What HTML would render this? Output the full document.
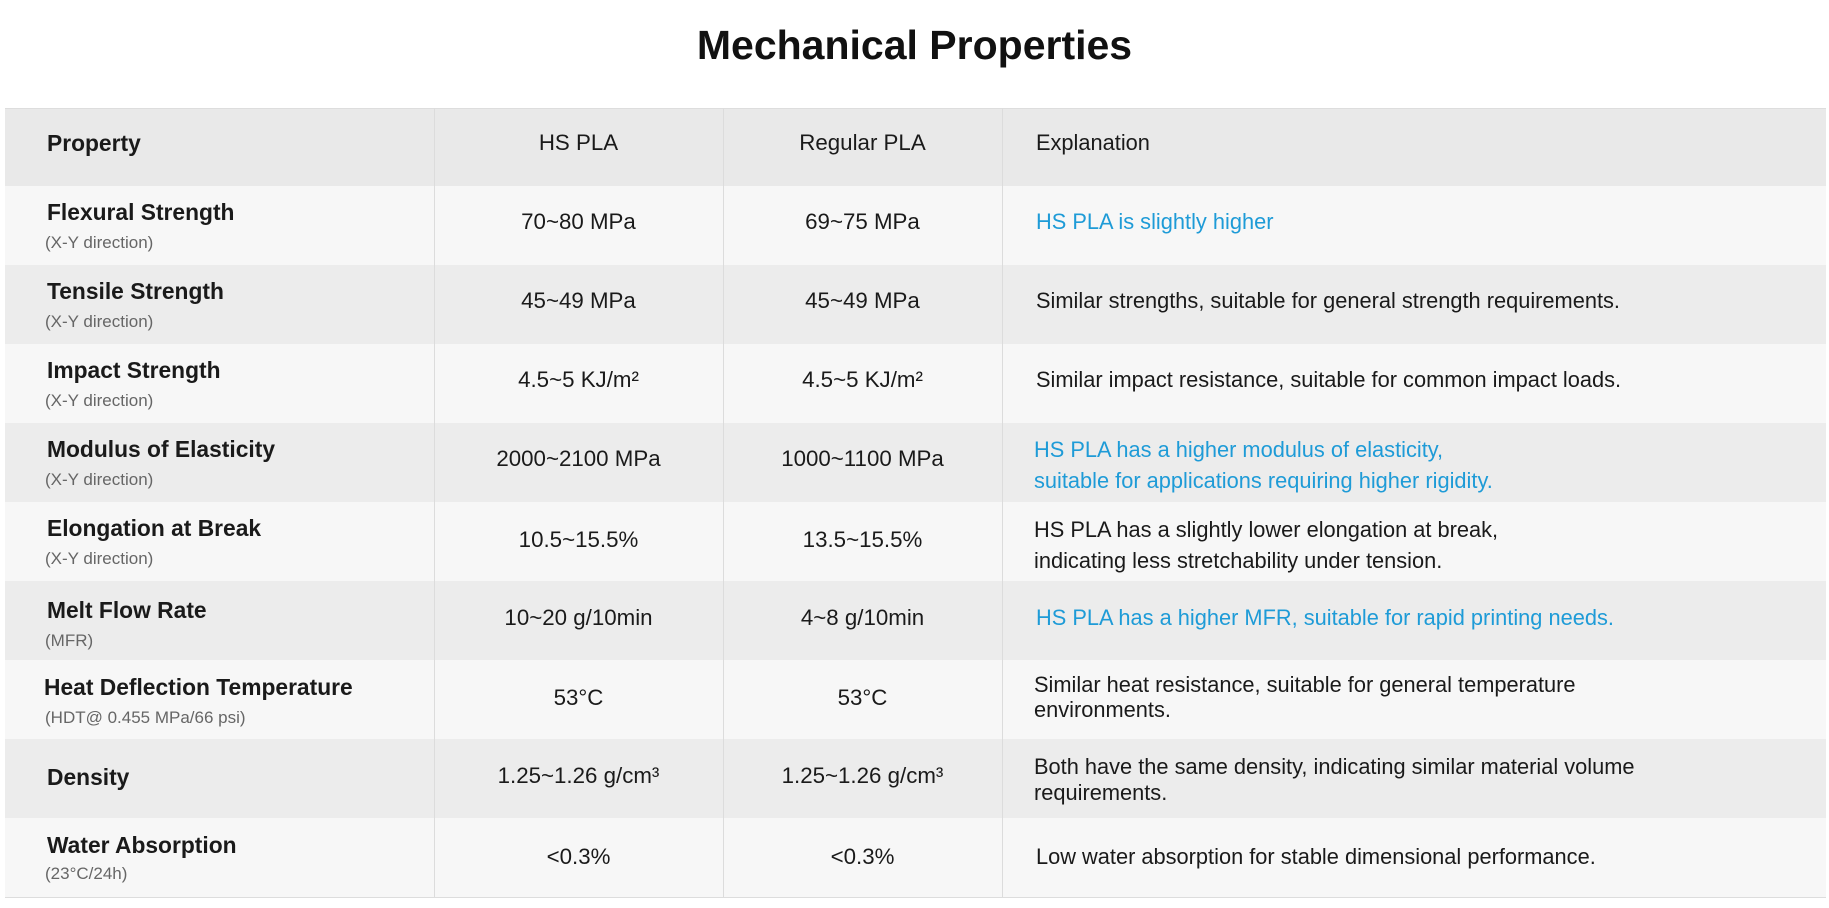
<!DOCTYPE html>
<html><head><meta charset="utf-8"><style>
body{margin:0;width:1829px;height:908px;background:#fff;position:relative;overflow:hidden;font-family:"Liberation Sans",sans-serif;color:#1a1a1a}
.a{position:absolute;white-space:nowrap}
.row{position:absolute;left:5px;width:1821px;height:79px}
.n{font-weight:bold;font-size:22.8px;line-height:26px}
.s{font-size:17px;color:#666;line-height:20px}
.v{font-size:22.3px;line-height:26px;text-align:center}
.e{font-size:21.8px;line-height:26px}
.b{color:#1e9bd7}
.vl{position:absolute;top:108px;height:789px;width:1px;background:#dcdcdc}
</style></head><body>
<div class="a" style="left:0;width:1829px;text-align:center;top:20px;font-size:41px;font-weight:bold;line-height:50px;color:#111">Mechanical Properties</div>
<div class="row" style="top:108px;height:78px;background:#e9e9e9;border-top:1px solid #ddd"></div>
<div class="row" style="top:186px;background:#f7f7f7"></div>
<div class="row" style="top:265px;background:#ececec"></div>
<div class="row" style="top:344px;background:#f7f7f7"></div>
<div class="row" style="top:423px;background:#ececec"></div>
<div class="row" style="top:502px;background:#f7f7f7"></div>
<div class="row" style="top:581px;background:#ececec"></div>
<div class="row" style="top:660px;background:#f7f7f7"></div>
<div class="row" style="top:739px;background:#ececec"></div>
<div class="row" style="top:818px;background:#f7f7f7;border-bottom:1px solid #ddd"></div>
<div class="vl" style="left:434px"></div><div class="vl" style="left:723px"></div><div class="vl" style="left:1002px"></div>

<div class="a n" style="left:47px;top:130px">Property</div>
<div class="a v" style="left:434px;width:289px;top:130px">HS PLA</div>
<div class="a v" style="left:723px;width:279px;top:130px">Regular PLA</div>
<div class="a e" style="left:1036px;top:130px">Explanation</div>

<div class="a n" style="left:47px;top:199px">Flexural Strength</div><div class="a s" style="left:45px;top:233px">(X-Y direction)</div>
<div class="a v" style="left:434px;width:289px;top:209px">70~80 MPa</div><div class="a v" style="left:723px;width:279px;top:209px">69~75 MPa</div>
<div class="a e b" style="left:1036px;top:209px">HS PLA is slightly higher</div>

<div class="a n" style="left:47px;top:278px">Tensile Strength</div><div class="a s" style="left:45px;top:312px">(X-Y direction)</div>
<div class="a v" style="left:434px;width:289px;top:288px">45~49 MPa</div><div class="a v" style="left:723px;width:279px;top:288px">45~49 MPa</div>
<div class="a e" style="left:1036px;top:288px">Similar strengths, suitable for general strength requirements.</div>

<div class="a n" style="left:47px;top:357px">Impact Strength</div><div class="a s" style="left:45px;top:391px">(X-Y direction)</div>
<div class="a v" style="left:434px;width:289px;top:367px">4.5~5 KJ/m²</div><div class="a v" style="left:723px;width:279px;top:367px">4.5~5 KJ/m²</div>
<div class="a e" style="left:1036px;top:367px">Similar impact resistance, suitable for common impact loads.</div>

<div class="a n" style="left:47px;top:436px">Modulus of Elasticity</div><div class="a s" style="left:45px;top:470px">(X-Y direction)</div>
<div class="a v" style="left:434px;width:289px;top:446px">2000~2100 MPa</div><div class="a v" style="left:723px;width:279px;top:446px">1000~1100 MPa</div>
<div class="a e b" style="left:1034px;top:434px;line-height:31px">HS PLA has a higher modulus of elasticity,<br>suitable for applications requiring higher rigidity.</div>

<div class="a n" style="left:47px;top:515px">Elongation at Break</div><div class="a s" style="left:45px;top:549px">(X-Y direction)</div>
<div class="a v" style="left:434px;width:289px;top:527px">10.5~15.5%</div><div class="a v" style="left:723px;width:279px;top:527px">13.5~15.5%</div>
<div class="a e" style="left:1034px;top:514px;line-height:31px">HS PLA has a slightly lower elongation at break,<br>indicating less stretchability under tension.</div>

<div class="a n" style="left:47px;top:597px">Melt Flow Rate</div><div class="a s" style="left:45px;top:631px">(MFR)</div>
<div class="a v" style="left:434px;width:289px;top:605px">10~20 g/10min</div><div class="a v" style="left:723px;width:279px;top:605px">4~8 g/10min</div>
<div class="a e b" style="left:1036px;top:605px">HS PLA has a higher MFR, suitable for rapid printing needs.</div>

<div class="a n" style="left:44px;top:674px">Heat Deflection Temperature</div><div class="a s" style="left:45px;top:708px">(HDT@ 0.455 MPa/66 psi)</div>
<div class="a v" style="left:434px;width:289px;top:685px">53°C</div><div class="a v" style="left:723px;width:279px;top:685px">53°C</div>
<div class="a e" style="left:1034px;top:672px;line-height:25px">Similar heat resistance, suitable for general temperature<br>environments.</div>

<div class="a n" style="left:47px;top:764px">Density</div>
<div class="a v" style="left:434px;width:289px;top:763px">1.25~1.26 g/cm³</div><div class="a v" style="left:723px;width:279px;top:763px">1.25~1.26 g/cm³</div>
<div class="a e" style="left:1034px;top:754px;line-height:26px">Both have the same density, indicating similar material volume<br>requirements.</div>

<div class="a n" style="left:47px;top:832px">Water Absorption</div><div class="a s" style="left:45px;top:864px">(23°C/24h)</div>
<div class="a v" style="left:434px;width:289px;top:844px">&lt;0.3%</div><div class="a v" style="left:723px;width:279px;top:844px">&lt;0.3%</div>
<div class="a e" style="left:1036px;top:844px">Low water absorption for stable dimensional performance.</div>
</body></html>
